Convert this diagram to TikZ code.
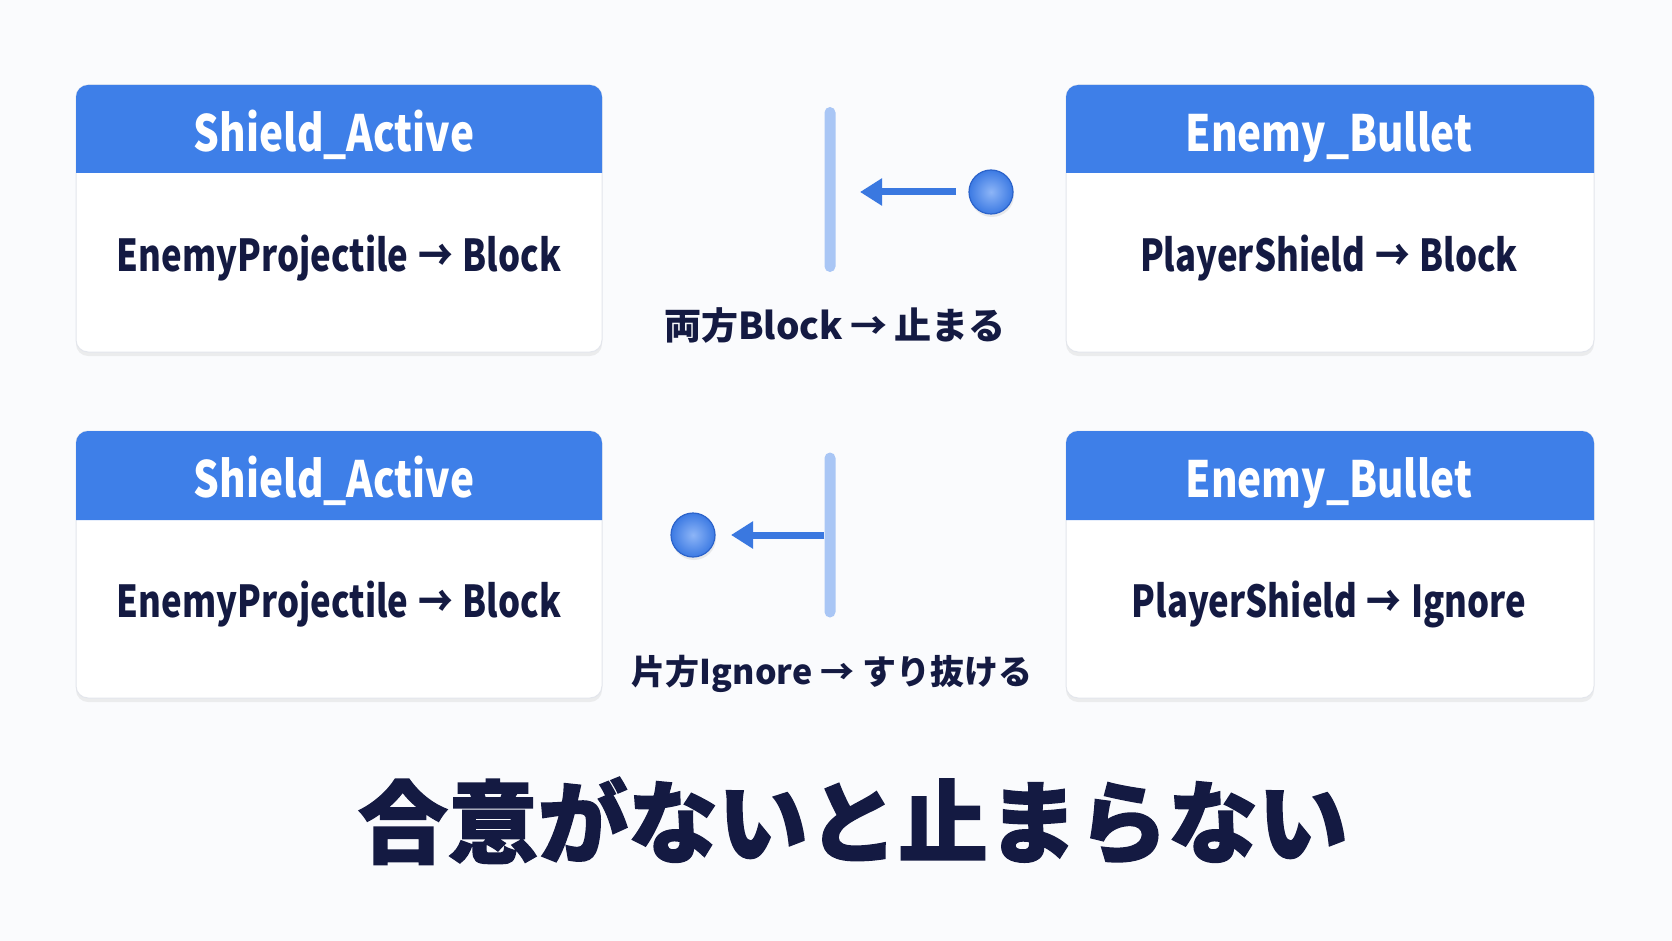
\documentclass[tikz,border=0pt]{standalone}
\usepackage{fontspec}
\usetikzlibrary{arrows.meta,shadows}
\newfontfamily\hdrf{Noto Sans CJK JP}[FakeStretch=0.81]
\newfontfamily\latinf{Noto Sans CJK JP}[FakeStretch=0.79]
\newfontfamily\jpf{Noto Sans CJK JP}
\newfontfamily\titlef{Noto Sans CJK JP}[BoldFeatures={FakeBold=1.6}]
\definecolor{bgc}{HTML}{FAFBFD}
\definecolor{hdrblue}{HTML}{3E7FE8}
\definecolor{navy}{HTML}{141A42}
\definecolor{barblue}{HTML}{A9C6F5}
\definecolor{arrblue}{HTML}{3A78E0}
\definecolor{ballin}{HTML}{8DB5F7}
\definecolor{ballout}{HTML}{3C7AE3}
\definecolor{ballline}{HTML}{2C63CA}
\definecolor{cardline}{HTML}{E3E6EC}
\newcommand{\rarr}{\hspace{0.22em}→\hspace{0.22em}}
\tikzset{
  card/.style={draw=cardline, line width=1pt, fill=white, rounded corners=12pt,
    minimum width=#1, minimum height=267pt, inner sep=0pt,
    drop shadow={opacity=0.12, shadow xshift=0pt, shadow yshift=-4pt}},
  hdrtext/.style={anchor=base, text=white, font=\hdrf\bfseries\fontsize{50}{56}\selectfont, inner sep=0pt},
  bodytext/.style={anchor=base, text=navy, font=\latinf\bfseries\fontsize{44}{50}\selectfont, inner sep=0pt},
  midlabel/.style={anchor=base, text=navy, font=\jpf\bfseries\fontsize{#1}{44}\selectfont, inner sep=0pt},
  titletext/.style={anchor=base, text=navy, font=\titlef\bfseries\fontsize{90}{100}\selectfont, inner sep=0pt},
  barst/.style={fill=barblue, rounded corners=5.5pt, minimum width=11pt, minimum height=#1, inner sep=0pt},
  ballst/.style={circle, minimum size=44pt, inner sep=0pt, inner color=ballin, outer color=ballout,
    draw=ballline, line width=1.2pt, drop shadow={opacity=0.15, shadow xshift=1pt, shadow yshift=-3pt}},
  arr/.style={draw=arrblue, line width=7pt, -{Triangle[length=22pt,width=26pt]}},
}
\begin{document}
\begin{tikzpicture}[x=1pt,y=-1pt]
\fill[bgc] (0,0) rectangle (1672,941);
\useasboundingbox (0,0) rectangle (1672,941);

% cards
\node[card=526pt] (c1) at (339,218.5) {};
\node[card=528pt] (c2) at (1330,218.5) {};
\node[card=526pt] (c3) at (339,564.5) {};
\node[card=528pt] (c4) at (1330,564.5) {};

% headers
\fill[hdrblue] (76,173) {[rounded corners=12pt] -- (76,85) -- (602,85)} -- (602,173) -- cycle;
\fill[hdrblue] (1066,173) {[rounded corners=12pt] -- (1066,85) -- (1594,85)} -- (1594,173) -- cycle;
\fill[hdrblue] (76,520) {[rounded corners=12pt] -- (76,431) -- (602,431)} -- (602,520) -- cycle;
\fill[hdrblue] (1066,520) {[rounded corners=12pt] -- (1066,431) -- (1594,431)} -- (1594,520) -- cycle;

\node[hdrtext] (h1) at (334,152) {Shield\_Active};
\node[hdrtext] (h2) at (1329,152) {Enemy\_Bullet};
\node[hdrtext] (h3) at (334,497) {Shield\_Active};
\node[hdrtext] (h4) at (1329,497) {Enemy\_Bullet};

\node[bodytext] (t1) at (339,271) {EnemyProjectile\rarr Block};
\node[bodytext] (t2) at (1329,271) {PlayerShield\rarr Block};
\node[bodytext] (t3) at (339,617) {EnemyProjectile\rarr Block};
\node[bodytext] (t4) at (1329,617) {PlayerShield\rarr Ignore};

% top middle
\node[barst=165pt] (bar1) at (830,189.5) {};
\node[ballst] (ball1) at (991,192) {};
\coordinate (a1s) at (956,192);
\coordinate (a1e) at (860,192);
\draw[arr] (a1s) -- (a1e);
\node[midlabel=37] (m1) at (835,339) {両方Block\hspace{0.2em}→\hspace{0.2em}止まる};

% bottom middle
\node[barst=165pt] (bar2) at (830,535) {};
\node[ballst] (ball2) at (693,535) {};
\coordinate (a2e) at (731,535);
\draw[arr] (bar2.west) -- (a2e);
\node[midlabel=34] (m2) at (832,684) {片方Ignore → すり抜ける};

% title
\node[titletext] (title) at (853,856) {合意がないと止まらない};
\end{tikzpicture}
\end{document}
